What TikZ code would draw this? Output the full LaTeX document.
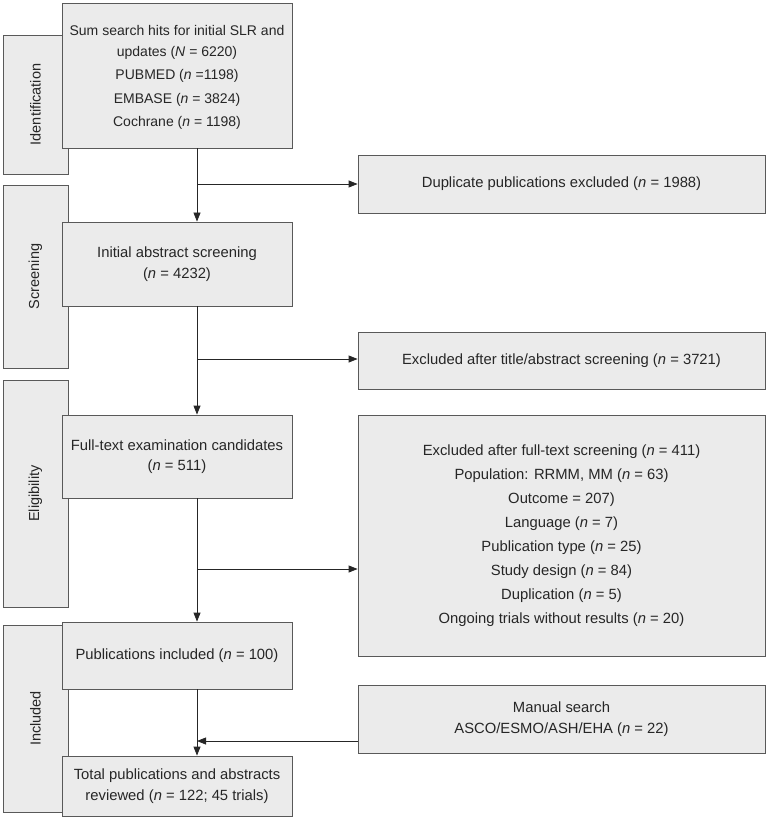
\documentclass[tikz,border=0pt]{standalone}
\usepackage{fontspec}
\setmainfont{Liberation Sans}
\usetikzlibrary{arrows.meta}
\begin{document}
\begin{tikzpicture}[x=1pt,y=-1pt,
  box/.style={draw=black!65,fill=black!8,line width=0.8pt,align=center,font=\fontsize{14.8}{20.5}\selectfont,text=black!85},
  side/.style={draw=black!65,fill=black!8,line width=0.8pt,font=\fontsize{14}{16}\selectfont,text=black!85},
  arr/.style={-{Triangle[length=9pt,width=7pt]},line width=0.8pt,draw=black!85},
  ln/.style={line width=0.8pt,draw=black!85}]
\useasboundingbox (0,0) rectangle (767,818);
\newcommand{\bx}[6]{\node[#6,minimum width=#3-#1,minimum height=#4-#2,inner sep=0pt] (#5) at ({(#1+#3)/2},{(#2+#4)/2}) {};}
% side boxes
\bx{3}{35}{68}{174}{s1}{side}\node[rotate=90,font=\fontsize{14.5}{16}\selectfont,text=black!85] at (s1) {Identification};
\bx{3}{185}{68}{368}{s2}{side}\node[rotate=90,font=\fontsize{14.5}{16}\selectfont,text=black!85] at (s2) {Screening};
\bx{3}{380}{68}{607}{s3}{side}\node[rotate=90,font=\fontsize{14.5}{16}\selectfont,text=black!85] at (s3) {Eligibility};
\bx{3}{625}{68}{812}{s4}{side}\node[rotate=90,font=\fontsize{14.5}{16}\selectfont,text=black!85] at (s4) {Included};
% main boxes
\bx{62}{3}{292}{148}{b1}{box}
\node[box,draw=none,fill=none,inner sep=0pt,font=\fontsize{14}{20.5}\selectfont] at ([yshift=-2]b1) {Sum search hits for initial SLR and\\updates (\textit{N} = 6220)\\[3pt]PUBMED (\textit{n} =1198)\\[3pt]EMBASE (\textit{n} = 3824)\\[3pt]Cochrane (\textit{n} = 1198)};
\bx{62}{222}{292}{306}{b2}{box}
\node[box,draw=none,fill=none,inner sep=0pt] at (b2) {Initial abstract screening\\(\textit{n} = 4232)};
\bx{62}{415}{292}{498}{b3}{box}
\node[box,draw=none,fill=none,inner sep=0pt] at (b3) {Full-text examination candidates\\(\textit{n} = 511)};
\bx{62}{622}{292}{689}{b4}{box}
\node[box,draw=none,fill=none,inner sep=0pt] at (b4) {Publications included (\textit{n} = 100)};
\bx{62}{756}{292}{816}{b5}{box}
\node[box,draw=none,fill=none,inner sep=0pt] at (b5) {Total publications and abstracts\\reviewed (\textit{n} = 122; 45 trials)};
% side boxes right
\bx{358}{155}{765}{213}{r1}{box}
\node[box,draw=none,fill=none,inner sep=0pt] at (r1) {Duplicate publications excluded (\textit{n} = 1988)};
\bx{358}{332}{765}{389}{r2}{box}
\node[box,draw=none,fill=none,inner sep=0pt] at (r2) {Excluded after title/abstract screening (\textit{n} = 3721)};
\bx{358}{415}{765}{656}{r3}{box}
\node[box,draw=none,fill=none,inner sep=0pt,font=\fontsize{14.8}{24}\selectfont] at (r3) {Excluded after full-text screening (\textit{n} = 411)\\Population: RRMM, MM (\textit{n} = 63)\\Outcome = 207)\\Language (\textit{n} = 7)\\Publication type (\textit{n} = 25)\\Study design (\textit{n} = 84)\\Duplication (\textit{n} = 5)\\Ongoing trials without results (\textit{n} = 20)};
\bx{358}{685}{765}{753}{r4}{box}
\node[box,draw=none,fill=none,inner sep=0pt] at (r4) {Manual search\\ASCO/ESMO/ASH/EHA (\textit{n} = 22)};
% connectors
\coordinate (j1) at (197,184); \coordinate (j2) at (197,359); \coordinate (j3) at (197,569); \coordinate (j4) at (197,741);
\draw[arr] (b1.south -| j1) -- (b2.north -| j1);
\draw[arr] (j1) -- (j1 -| r1.west);
\draw[arr] (b2.south -| j2) -- (b3.north -| j2);
\draw[arr] (j2) -- (j2 -| r2.west);
\draw[arr] (b3.south -| j3) -- (b4.north -| j3);
\draw[arr] (j3) -- (j3 -| r3.west);
\draw[arr] (b4.south -| j4) -- (b5.north -| j4);
\draw[arr] (j4 -| r4.west) -- (j4);
\end{tikzpicture}
\end{document}
